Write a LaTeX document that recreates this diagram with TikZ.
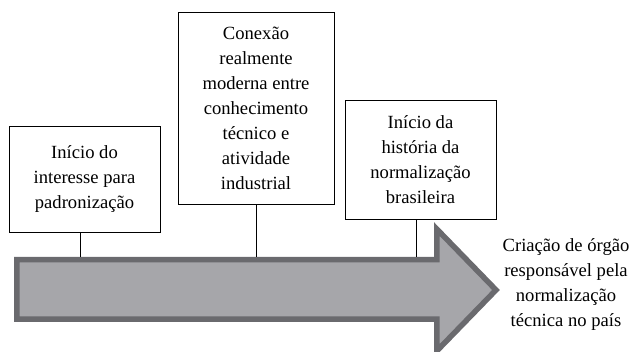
\documentclass[tikz,border=0pt]{standalone}
\usepackage{fontspec}
\setmainfont{LiberationSerif}[Extension=.ttf, UprightFont=*-Regular, BoldFont=*-Bold]
\usetikzlibrary{positioning,calc}
\definecolor{arrowfill}{HTML}{A6A6AA}
\definecolor{arrowedge}{HTML}{6A6A6E}
\tikzset{
  txt/.style={font=\fontsize{18.6}{25}\selectfont, align=center, inner sep=0pt},
  box/.style={txt, draw=black, line width=0.9pt, fill=white},
  link/.style={draw=black, line width=0.9pt}
}
\begin{document}
\begin{tikzpicture}[x=1pt, y=1pt]
                \useasboundingbox (0,0) rectangle (632,352);

                % Arrow
                \draw[line width=5.5pt, draw=arrowedge, fill=arrowfill, line join=miter]
                  (16.75,32.75) -- (16.75,92.25) -- (436.75,92.25) -- (436.75,123)
                  -- (496,62) -- (436.75,1) -- (436.75,32.75) -- cycle;
                \coordinate (t1) at (80,95);
                \coordinate (t2) at (256,95);
                \coordinate (t3) at (416,95);

                % Boxes
                \node[box, minimum width=151pt, minimum height=106pt] (b1) at (84.5,173)
                  {Início do\\interesse para\\padronização};
                \node[box, minimum width=156pt, minimum height=192pt] (b2) at (256,244)
                  {Conexão\\realmente\\moderna entre\\conhecimento\\técnico e\\atividade\\industrial};
                \node[box, minimum width=151pt, minimum height=119pt] (b3) at (420.5,192.5)
                  {Início da\\história da\\normalização\\brasileira};

                % Links
                \draw[link] (t1 |- b1.south) -- (t1);
                \draw[link] (t2 |- b2.south) -- (t2);
                \draw[link] (t3 |- b3.south) -- (t3);

                % Outcome
                \node[txt] (goal) at (566,67)
                  {Criação de órgão\\responsável pela\\normalização\\técnica no país};
            \end{tikzpicture}
\end{document}
